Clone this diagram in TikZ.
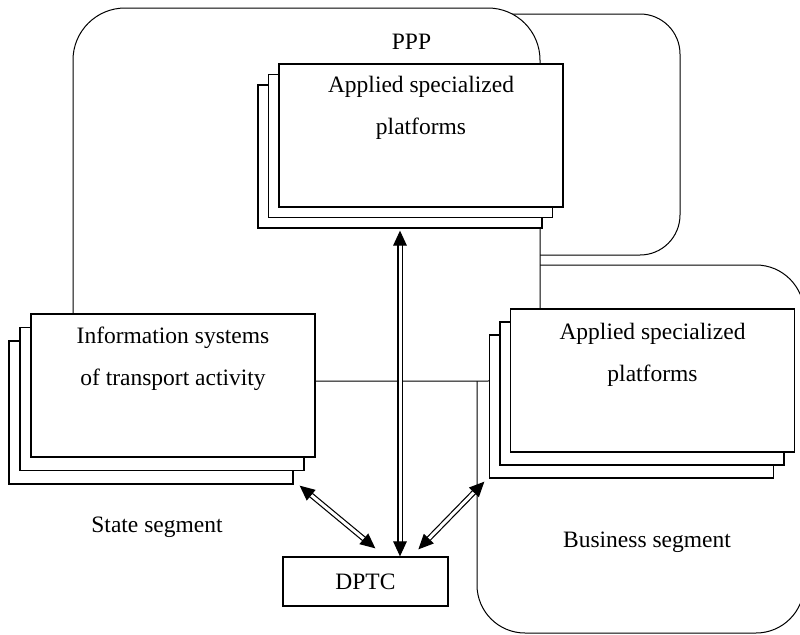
\documentclass[tikz,border=0pt]{standalone}
\usepackage{fontspec}
\setmainfont{Liberation Serif}
\usetikzlibrary{arrows.meta,positioning}

\begin{document}
\begin{tikzpicture}[x=0.5pt,y=-0.5pt,
  region/.style={draw,fill=white,line width=0.5pt},
  card/.style={draw,fill=white,line width=0.65pt,inner sep=0pt,
    minimum width=142pt,minimum height=71.5pt},
  caption/.style={inner sep=0pt,align=center,
    font=\fontsize{11.75pt}{21pt}\selectfont},
  link/.style={double,double distance=1.5pt,line width=0.6pt,
    {Triangle[length=7.5pt,width=6.8pt]}-{Triangle[length=7.5pt,width=6.8pt]}}]
  \useasboundingbox (0,0) rectangle (800,634);

  % segments
  \draw[region,rounded corners=20pt] (440,14) rectangle (680,255);
  \draw[region,rounded corners=24pt] (477,265) rectangle (804,633);
  \draw[region,rounded corners=26pt] (73,8) rectangle (540,381);

  % PPP platforms
  \node[card] (ppb) at (400,156.5) {};
  \node[card,on grid,above right=5.25pt and 5.25pt of ppb] (ppm) {};
  \node[card,on grid,above right=5.25pt and 5.25pt of ppm] (ppf) {};
  \node[caption,below=6pt of ppf.north] {Applied specialized\\platforms};

  % state information systems
  \node[card] (isb) at (151,412.5) {};
  \node[card,on grid,above right=6.75pt and 5.5pt of isb] (ism) {};
  \node[card,on grid,above right=6.75pt and 5.5pt of ism] (isf) {};
  \node[caption,below=6.5pt of isf.north] {Information systems\\of transport activity};

  % business platforms
  \node[card] (bsb) at (631.5,406.5) {};
  \node[card,on grid,above right=6.5pt and 5.25pt of bsb] (bsm) {};
  \node[card,on grid,above right=6.5pt and 5.25pt of bsm] (bsf) {};
  \node[caption,below=7pt of bsf.north] {Applied specialized\\platforms};

  \node[card,caption,minimum width=82.5pt,minimum height=24.5pt] (dptc) at (365.5,581.5) {DPTC};

  \node[caption,anchor=base] (ppp) at (411.5,49) {PPP};
  \node[caption,anchor=base] (state) at (157,532) {State segment};
  \node[caption,anchor=base] (business) at (647,547) {Business segment};

  \draw[link] ([yshift=-1pt]ppb.south) -- (ppb.south |- dptc.north);
  \draw[link] ([shift={(3pt,-0.5pt)}]isb.south east) -- ([shift={(46.5pt,4pt)}]dptc.north west);
  \draw[link] ([shift={(68pt,3.5pt)}]dptc.north west) -- ([shift={(-2.25pt,-1.5pt)}]bsb.south west);
\end{tikzpicture}
\end{document}
